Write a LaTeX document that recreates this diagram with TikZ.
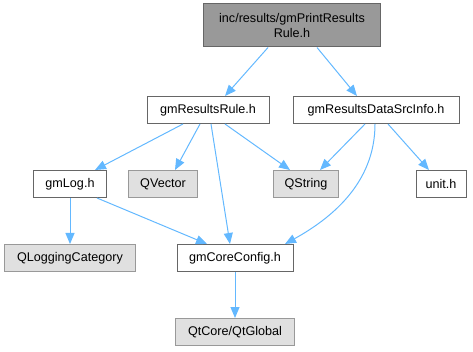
\documentclass[tikz,border=0pt]{standalone}
\usepackage{fontspec}
\setmainfont{Liberation Sans}
\usetikzlibrary{arrows.meta}
\definecolor{edgec}{HTML}{63B8FF}
\definecolor{boxb}{HTML}{666666}
\definecolor{extb}{HTML}{999999}
\definecolor{extf}{HTML}{E0E0E0}
\begin{document}
\begin{tikzpicture}[x=1pt,y=-1pt,
  every node/.style={font=\fontsize{12.6}{15}\selectfont, inner sep=0pt, minimum height=27pt},
  filebox/.style={draw=boxb, fill=white, line width=1pt},
  extbox/.style={draw=extb, fill=extf, line width=1pt},
  topbox/.style={draw=boxb, fill=extb, line width=1pt, align=center, minimum height=43pt},
  dep/.style={draw=edgec, line width=1pt, -{Triangle[length=11pt,width=9pt]}}]
\useasboundingbox (0,0) rectangle (473,352);
\node[topbox, minimum width=177pt] (top) at (292,25.5) {inc/results/gmPrintResults\\Rule.h};
\node[filebox, minimum width=122pt] (rr) at (208,110) {gmResultsRule.h};
\node[filebox, minimum width=166pt] (ds) at (376,110) {gmResultsDataSrcInfo.h};
\node[filebox, minimum width=73pt] (gl) at (70,184) {gmLog.h};
\node[extbox, minimum width=69pt] (qv) at (163,184) {QVector};
\node[extbox, minimum width=65pt] (qs) at (306,184) {QString};
\node[filebox, minimum width=50pt] (un) at (441,184) {unit.h};
\node[extbox, minimum width=131pt] (qlc) at (70,258) {QLoggingCategory};
\node[filebox, minimum width=116pt] (cc) at (235,258) {gmCoreConfig.h};
\node[extbox, minimum width=119pt] (qt) at (235,332) {QtCore/QtGlobal};
\draw[dep] ([xshift=-24pt]top.south) -- ([xshift=17pt]rr.north);
\draw[dep] ([xshift=25pt]top.south) -- ([xshift=-19pt]ds.north);
\draw[dep] ([xshift=-25pt]rr.south) -- ([xshift=25pt]gl.north);
\draw[dep] ([xshift=-8pt]rr.south) -- ([xshift=12pt]qv.north);
\draw[dep] ([xshift=17pt]rr.south) -- ([xshift=-16pt]qs.north);
\draw[dep] ([xshift=3pt]rr.south) -- ([xshift=-5pt]cc.north);
\draw[dep] ([xshift=-11pt]ds.south) -- ([xshift=14pt]qs.north);
\draw[dep] ([xshift=-1pt]ds.south) .. controls +(0,60) and +(45,-25) .. ([xshift=50pt]cc.north);
\draw[dep] ([xshift=12pt]ds.south) -- ([xshift=-12pt]un.north);
\draw[dep] (gl.south) -- (qlc.north);
\draw[dep] ([xshift=27pt]gl.south) -- ([xshift=-28pt]cc.north);
\draw[dep] (cc.south) -- (qt.north);
\end{tikzpicture}
\end{document}
